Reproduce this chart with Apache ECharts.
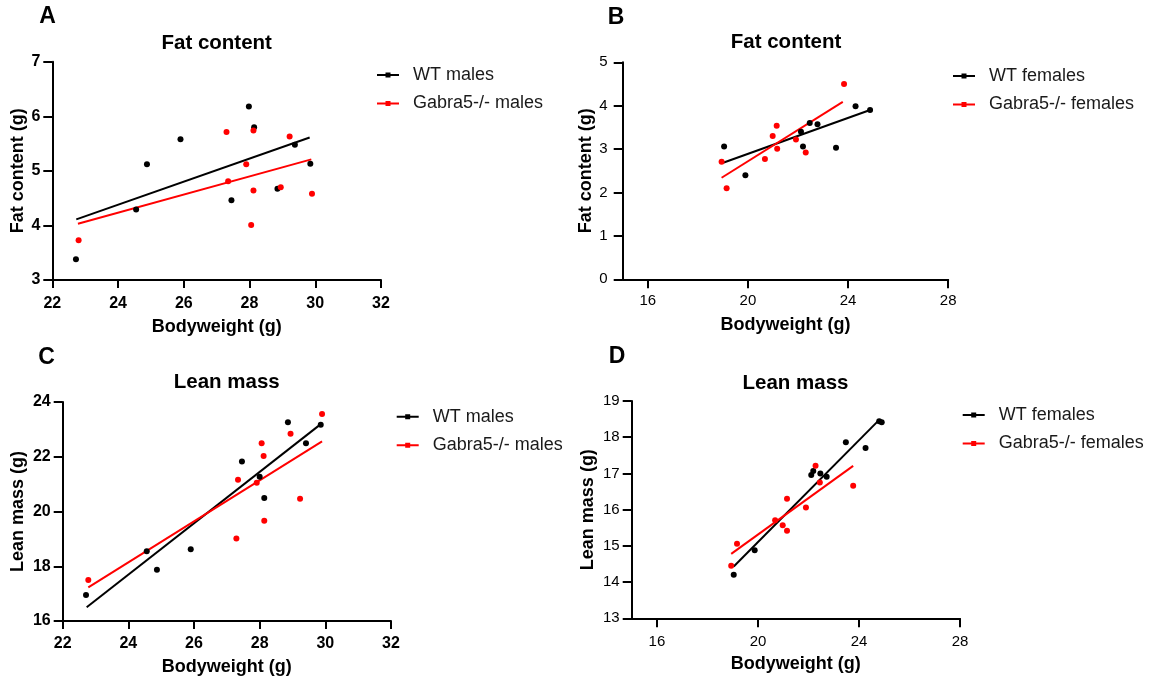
<!DOCTYPE html>
<html>
<head>
<meta charset="utf-8">
<script src="https://cdn.jsdelivr.net/npm/echarts@6/dist/echarts.min.js"></script>
<style>
html,body{margin:0;padding:0;background:#fff;}
#chart{width:1152px;height:686px;}
</style>
</head>
<body>
<div id="chart"></div>
<script>
// ---------- DATA ----------
// Panel A: fat content, males
const maleFatWT = [[22.72,3.38],[24.55,4.29],[24.88,5.12],[25.9,5.58],[27.45,4.46],[27.98,6.18],[28.14,5.8],[28.85,4.67],[29.38,5.48],[29.85,5.13]];
const maleFatKO = [[22.8,3.73],[27.3,5.71],[27.35,4.81],[27.9,5.12],[28.05,4.01],[28.12,5.74],[28.12,4.64],[28.95,4.70],[29.22,5.63],[29.9,4.58]];
const maleFatWTFit = [[22.73,4.11],[29.83,5.61]];
const maleFatKOFit = [[22.78,4.03],[29.88,5.21]];
// Panel B: fat content, females
const femaleFatWT = [[19.05,3.06],[19.9,2.40],[22.12,3.40],[22.2,3.06],[22.47,3.60],[22.78,3.57],[23.52,3.03],[24.3,3.99],[24.88,3.90]];
const femaleFatKO = [[18.95,2.71],[19.15,2.10],[20.68,2.77],[20.99,3.30],[21.15,3.54],[21.17,3.01],[21.92,3.22],[22.31,2.92],[23.84,4.50]];
const femaleFatWTFit = [[19.04,2.69],[24.88,3.90]];
const femaleFatKOFit = [[18.95,2.34],[23.79,4.09]];
// Panel C: lean mass, males
const maleLeanWT = [[22.71,16.95],[24.56,18.55],[24.87,17.87],[25.9,18.62],[27.46,21.83],[28.0,21.27],[28.14,20.49],[28.86,23.26],[29.41,22.49],[29.86,23.17]];
const maleLeanKO = [[22.78,17.50],[27.29,19.01],[27.34,21.16],[27.91,21.05],[28.06,22.49],[28.12,22.03],[28.14,19.66],[28.94,22.84],[29.23,20.47],[29.9,23.56]];
const maleLeanWTFit = [[22.73,16.5],[29.89,23.22]];
const maleLeanKOFit = [[22.78,17.23],[29.9,22.56]];
// Panel D: lean mass, females
const femaleLeanWT = [[19.04,14.20],[19.87,14.88],[22.11,16.96],[22.19,17.07],[22.47,17.0],[22.72,16.91],[23.48,17.86],[24.26,17.70],[24.8,18.44],[24.9,18.41]];
const femaleLeanKO = [[18.94,14.45],[19.17,15.06],[20.68,15.71],[20.98,15.57],[21.15,16.30],[21.15,15.42],[21.9,16.06],[22.28,17.21],[22.45,16.75],[23.77,16.66]];
const femaleLeanWTFit = [[19.04,14.43],[24.8,18.48]];
const femaleLeanKOFit = [[18.94,14.78],[23.77,17.21]];
// Axis ranges and ticks
const maleXRange = [22,32], maleXStep = 2;
const femaleXRange = [15,28];
const femaleXTicks = [16,20,24,28];
const maleFatYRange = [3,7], maleFatYStep = 1;
const femaleFatYRange = [0,5], femaleFatYStep = 1;
const maleLeanYRange = [16,24], maleLeanYStep = 2;
const femaleLeanYRange = [13,19], femaleLeanYStep = 1;
// Labels
const panelLetters = ['A','B','C','D'];
const panelTitles = ['Fat content','Fat content','Lean mass','Lean mass'];
const xName = 'Bodyweight (g)';
const yNames = ['Fat content (g)','Fat content (g)','Lean mass (g)','Lean mass (g)'];
const legendMale = ['WT males','Gabra5-/- males'];
const legendFemale = ['WT females','Gabra5-/- females'];

// ---------- STYLE ----------
const FONT = '"Liberation Sans", Arial, sans-serif';
const BLACK = '#000000';
const RED = '#ff0000';
const ICON = 'path://M0,2 L22,2 L22,4 L0,4 Z M8.5,0.5 L13.5,0.5 L13.5,5.5 L8.5,5.5 Z';

const grids = [
  {left:52.3, top:61.7, width:328.7, height:218.3},
  {left:622.7, top:62.3, width:325.5, height:217},
  {left:62.7, top:402, width:328.3, height:219},
  {left:631.7, top:401, width:328.3, height:217.3}
];

function baseAxis(i, range, bold, nameGap, labelMargin, tickLen, name){
  return {
    type:'value', gridIndex:i, min:range[0], max:range[1],
    name:name, nameLocation:'middle', nameGap:nameGap,
    nameTextStyle:{fontFamily:FONT, fontSize:18, fontWeight:'bold', color:'#000'},
    splitLine:{show:false}, minorTick:{show:false},
    axisLine:{show:true, onZero:false, lineStyle:{color:'#000', width:2}},
    axisTick:{show:true, inside:false, length:tickLen, lineStyle:{color:'#000', width:2}},
    axisLabel:{show:true, margin:labelMargin, fontFamily:FONT, fontSize:bold?16:15, fontWeight:bold?'bold':'normal', color:'#000'}
  };
}
function stepAxis(i, range, step, bold, nameGap, labelMargin, tickLen, name){
  const a = baseAxis(i, range, bold, nameGap, labelMargin, tickLen, name);
  a.interval = step;
  return a;
}
function customAxis(i, range, ticks, bold, nameGap, labelMargin, tickLen, name){
  const a = baseAxis(i, range, bold, nameGap, labelMargin, tickLen, name);
  a.axisTick.customValues = ticks;
  a.axisLabel.customValues = ticks;
  return a;
}

function scatter(name, data, color, i){
  return {type:'scatter', name:name, data:data, xAxisIndex:i, yAxisIndex:i,
    symbol:'circle', symbolSize:6, itemStyle:{color:color, opacity:1}, z:3};
}
function fit(name, data, color, i){
  return {type:'line', name:name, data:data, xAxisIndex:i, yAxisIndex:i,
    symbol:'none', lineStyle:{color:color, width:2}, z:2, silent:true};
}

function legend(names, left, top){
  return {
    left:left, top:top, orient:'vertical', padding:0, itemGap:8.5,
    itemWidth:22, itemHeight:6, selectedMode:false,
    textStyle:{fontFamily:FONT, fontSize:18, color:'#1a1a1a', lineHeight:20, padding:[0,0,0,9]},
    data:[
      {name:names[0], icon:ICON, itemStyle:{color:BLACK}},
      {name:names[1], icon:ICON, itemStyle:{color:RED}}
    ]
  };
}

const letterPos = [[47.5,17],[616,17.5],[46.5,357.5],[617,356.5]];
const titlePos = [[216.7,43],[786,42.5],[226.7,382.5],[795.5,383]];
const graphics = [];
panelLetters.forEach((t,k)=>{
  graphics.push({type:'text', x:letterPos[k][0], y:letterPos[k][1],
    style:{text:t, fontFamily:FONT, fontSize:23, fontWeight:'bold', fill:'#000', align:'center', verticalAlign:'middle'}});
});
panelTitles.forEach((t,k)=>{
  graphics.push({type:'text', x:titlePos[k][0], y:titlePos[k][1],
    style:{text:t, fontFamily:FONT, fontSize:20.5, fontWeight:'bold', fill:'#000', align:'center', verticalAlign:'middle'}});
});

const option = {
  animation:false,
  backgroundColor:'#ffffff',
  grid: grids.map(g=>Object.assign({containLabel:false, outerBoundsMode:'none'}, g)),
  xAxis:[
    stepAxis(0, maleXRange, maleXStep, true, 38, 16, 8, xName),
    customAxis(1, femaleXRange, femaleXTicks, false, 37, 14, 9, xName),
    stepAxis(2, maleXRange, maleXStep, true, 37, 15, 8, xName),
    customAxis(3, femaleXRange, femaleXTicks, false, 37, 16, 9, xName)
  ],
  yAxis:[
    Object.assign(stepAxis(0, maleFatYRange, maleFatYStep, true, 23, 12, 9, yNames[0]), {nameRotate:90}),
    Object.assign(stepAxis(1, femaleFatYRange, femaleFatYStep, false, 26, 15, 9, yNames[1]), {nameRotate:90}),
    Object.assign(stepAxis(2, maleLeanYRange, maleLeanYStep, true, 36, 12, 9, yNames[2]), {nameRotate:90}),
    Object.assign(stepAxis(3, femaleLeanYRange, femaleLeanYStep, false, 35, 12, 9, yNames[3]), {nameRotate:90})
  ],
  legend:[
    legend(legendMale, 377, 65),
    legend(legendFemale, 953, 66),
    legend(legendMale, 396.7, 406.7),
    legend(legendFemale, 962.7, 405)
  ],
  graphic: graphics,
  series:[
    fit(legendMale[0], maleFatWTFit, BLACK, 0),
    fit(legendMale[1], maleFatKOFit, RED, 0),
    scatter(legendMale[0], maleFatWT, BLACK, 0),
    scatter(legendMale[1], maleFatKO, RED, 0),
    fit(legendFemale[0], femaleFatWTFit, BLACK, 1),
    fit(legendFemale[1], femaleFatKOFit, RED, 1),
    scatter(legendFemale[0], femaleFatWT, BLACK, 1),
    scatter(legendFemale[1], femaleFatKO, RED, 1),
    fit(legendMale[0], maleLeanWTFit, BLACK, 2),
    fit(legendMale[1], maleLeanKOFit, RED, 2),
    scatter(legendMale[0], maleLeanWT, BLACK, 2),
    scatter(legendMale[1], maleLeanKO, RED, 2),
    fit(legendFemale[0], femaleLeanWTFit, BLACK, 3),
    fit(legendFemale[1], femaleLeanKOFit, RED, 3),
    scatter(legendFemale[0], femaleLeanWT, BLACK, 3),
    scatter(legendFemale[1], femaleLeanKO, RED, 3)
  ]
};

const chart = echarts.init(document.getElementById('chart'), null, {renderer:'canvas'});
chart.setOption(option);
</script>
</body>
</html>
